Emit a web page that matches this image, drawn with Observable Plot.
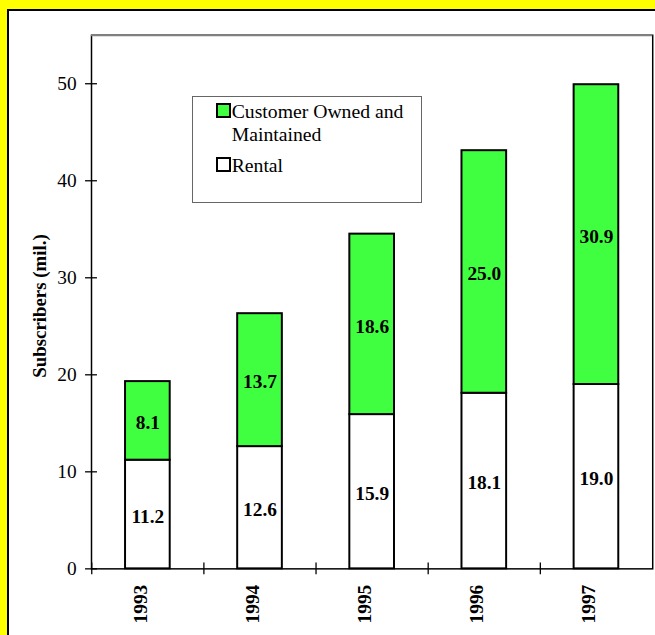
<!DOCTYPE html>
<html>
<head>
<meta charset="utf-8">
<script src="https://cdn.jsdelivr.net/npm/d3@7"></script>
<script src="https://cdn.jsdelivr.net/npm/@observablehq/plot@0.6"></script>
<style>
  html, body { margin: 0; padding: 0; width: 655px; height: 635px; overflow: hidden; background: #ffff00; }
  body { position: relative; font-family: 'Liberation Serif', 'Times New Roman', Times, serif; }
  #panel { position: absolute; left: 7px; top: 9px; width: 720px; height: 720px; background: #fff; border: 2px solid #000; }
  #chart { position: absolute; left: 0; top: 0; }
  #legend { position: absolute; left: 191.7px; top: 96px; width: 230px; height: 107px; box-sizing: border-box; border: 1px solid #666; background: #fff; padding: 2.9px 0 0 23px; font-size: 19.7px; line-height: 23px; color: #000; }
  .item { display: flex; align-items: baseline; }
  .item + .item { margin-top: 8.6px; }
  .swatch { flex: none; width: 11px; height: 11px; border: 2px solid #000; margin-right: 1px; }
  .label { width: 185px; }
</style>
</head>
<body>
<div id="panel"></div>
<div id="chart"></div>
<div id="legend"></div>
<script>
// Subscribers (millions) by year, split by pager ownership
const years = ["1993", "1994", "1995", "1996", "1997"];
const rental = [11.2, 12.6, 15.9, 18.1, 19.0];
const customerOwned = [8.1, 13.7, 18.6, 25.0, 30.9];
const seriesNames = ["Rental", "Customer Owned and Maintained"];
const seriesColors = ["#ffffff", "#40ff40"];
const legendOrder = ["Customer Owned and Maintained", "Rental"];
const yTicks = [0, 10, 20, 30, 40, 50];
const yLabel = "Subscribers (mil.)";

const rows = years.flatMap((year, i) => [
  {year, series: seriesNames[0], value: rental[i]},
  {year, series: seriesNames[1], value: customerOwned[i]}
]);

const W = 660, H = 635;
const M = {left: 91.7, right: 2.8, top: 35, bottom: 62.3};
const step = (W - M.left - M.right) / years.length;
const serif = "'Liberation Serif', 'Times New Roman', Times, serif";

const chart = Plot.plot({
  width: W,
  height: H,
  marginLeft: M.left,
  marginRight: M.right,
  marginTop: M.top,
  marginBottom: M.bottom,
  style: {background: "transparent", fontFamily: serif, fontSize: "19.5px", color: "#000", overflow: "visible"},
  x: {type: "band", domain: years, paddingInner: 0.6, paddingOuter: 0.3},
  y: {domain: [0, 55]},
  color: {domain: seriesNames, range: seriesColors},
  marks: [
    Plot.frame({stroke: "#000", strokeWidth: 1.5}),
    Plot.ruleY([55], {stroke: "#808080", strokeWidth: 2}),
    Plot.barY(rows, Plot.stackY({
      x: "year", y: "value", fill: "series", z: "series", order: seriesNames,
      stroke: "#000", strokeWidth: 2
    })),
    Plot.text(rows, Plot.stackY({
      x: "year", y: "value", z: "series", order: seriesNames,
      text: d => d.value.toFixed(1), dy: 2,
      fontWeight: "bold", fontSize: 19.5, fill: "#000"
    })),
    // y ticks cross the axis line
    Plot.axisY({ticks: yTicks, tickSize: 12, dx: 6, tickPadding: 9, label: null, strokeWidth: 1.3, fontSize: 19.5}),
    // x ticks sit on the category boundaries and cross the baseline
    Plot.axisX({ticks: years, tickSize: 12, dy: -6, dx: -step / 2, tickFormat: () => "", label: null, strokeWidth: 1.3}),
    Plot.text(years, {x: d => d, frameAnchor: "bottom", dy: 16, dx: -1, rotate: -90, textAnchor: "end", fontWeight: "bold", fontSize: 19.5}),
    Plot.text([yLabel], {frameAnchor: "left", dx: -52, dy: 4, rotate: -90, textAnchor: "middle", fontWeight: "bold", fontSize: 19})
  ]
});
document.getElementById("chart").appendChild(chart);

const legend = document.getElementById("legend");
const colorOf = new Map(seriesNames.map((s, i) => [s, seriesColors[i]]));
for (const name of legendOrder) {
  const item = document.createElement("div");
  item.className = "item";
  const sw = document.createElement("span");
  sw.className = "swatch";
  sw.style.background = colorOf.get(name);
  const lab = document.createElement("span");
  lab.className = "label";
  lab.textContent = name;
  item.append(sw, lab);
  legend.appendChild(item);
}
</script>
</body>
</html>
